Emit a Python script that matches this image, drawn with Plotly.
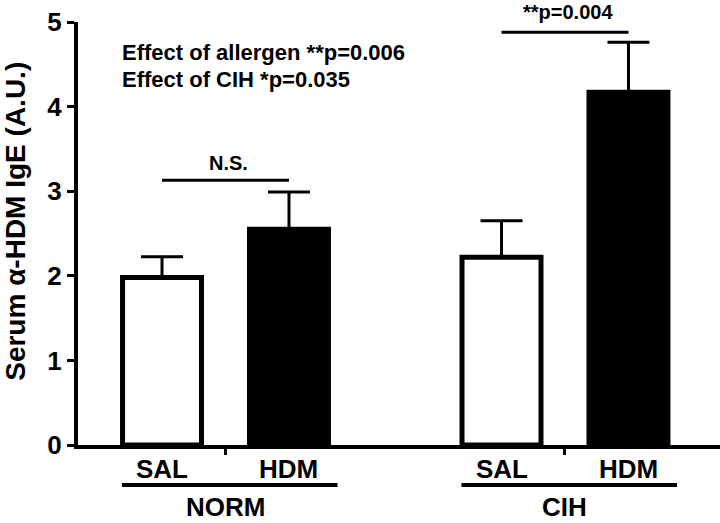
import plotly.graph_objects as go

# ---- data ----
groups = ["NORM", "CIH"]
sal_mean = [1.98, 2.22]
sal_sem = [0.245, 0.43]
hdm_mean = [2.55, 4.17]
hdm_sem = [0.44, 0.59]
y_ticks = [0, 1, 2, 3, 4, 5]
sub_labels = ["SAL", "HDM"]
stat_lines = ["Effect of allergen **p=0.006", "Effect of CIH *p=0.035"]
pair_labels = ["N.S.", "**p=0.004"]

FONT = "Liberation Sans, Arial, Helvetica, sans-serif"
BAR_OFF = 0.187  # half slot offset of each bar from group center
Y_MAX = 5

fig = go.Figure()
fig.add_trace(go.Bar(
    x=groups, y=sal_mean, name="SAL",
    marker=dict(color="white", line=dict(color="black", width=5)),
    error_y=dict(type="data", array=sal_sem, arrayminus=[0, 0], symmetric=False,
                 color="black", thickness=3, width=21),
))
fig.add_trace(go.Bar(
    x=groups, y=hdm_mean, name="HDM",
    marker=dict(color="black", line=dict(color="black", width=5)),
    error_y=dict(type="data", array=hdm_sem, arrayminus=[0, 0], symmetric=False,
                 color="black", thickness=3, width=21),
))

fig.update_layout(
    width=720, height=523,
    margin=dict(l=78, r=0, t=22, b=78),
    paper_bgcolor="white", plot_bgcolor="white",
    barmode="group", bargap=0.252, bargroupgap=0.378,
    showlegend=False,
    font=dict(family=FONT, color="black"),
)
fig.update_yaxes(
    range=[0, Y_MAX], tickvals=y_ticks, ticks="outside", ticklen=7, tickwidth=3,
    tickcolor="black", showline=True, linewidth=4, linecolor="black",
    showgrid=False, zeroline=False,
    tickfont=dict(family=FONT, size=26, color="black", weight="bold"),
)
fig.update_xaxes(
    type="category", range=[-0.4345, 1.4566],
    ticks="outside", ticklen=6, tickwidth=3, tickcolor="black",
    showline=True, linewidth=4, linecolor="black",
    showgrid=False, zeroline=False, showticklabels=False,
)

ann = []
shapes = []
for gi, g in enumerate(groups):
    for si, lab in enumerate(sub_labels):
        ann.append(dict(x=gi + (-BAR_OFF if si == 0 else BAR_OFF), y=-0.0567,
                        xref="x", yref="paper", text=lab, showarrow=False,
                        yanchor="middle", xanchor="center",
                        font=dict(family=FONT, size=26, color="black", weight="bold")))
    shapes.append(dict(type="line", xref="x", yref="paper",
                       x0=gi - 0.305, x1=gi + 0.33, y0=-0.0946, y1=-0.0946,
                       line=dict(color="black", width=4)))
    ann.append(dict(x=gi + 0.0, y=-0.147, xref="x", yref="paper", text=g,
                    showarrow=False, yanchor="middle", xanchor="center",
                    font=dict(family=FONT, size=26, color="black", weight="bold")))

# significance brackets between bar centers
sig_y = [3.13, 4.88]
sig_text_y = [3.33, 5.12]
for gi in range(len(groups)):
    shapes.append(dict(type="line", xref="x", yref="y",
                       x0=gi - BAR_OFF, x1=gi + BAR_OFF, y0=sig_y[gi], y1=sig_y[gi],
                       line=dict(color="black", width=3)))
    ann.append(dict(x=gi + 0.01, y=sig_text_y[gi] / Y_MAX, xref="x", yref="paper",
                    text=pair_labels[gi], showarrow=False,
                    yanchor="middle", xanchor="center",
                    font=dict(family=FONT, size=20, color="black", weight="bold")))

# stats text
for t, yy in zip(stat_lines, [0.927, 0.863]):
    ann.append(dict(x=0.065, y=yy, xref="paper", yref="paper", text=t,
                    showarrow=False, xanchor="left", yanchor="middle",
                    font=dict(family=FONT, size=22, color="black", weight="bold")))

# y-axis title
ann.append(dict(x=-0.0966, y=0.53, xref="paper", yref="paper",
                text="Serum α-HDM IgE (A.U.)", textangle=-90, showarrow=False,
                xanchor="center", yanchor="middle",
                font=dict(family=FONT, size=28, color="black", weight="bold")))

fig.update_layout(annotations=ann, shapes=shapes)
fig.write_html("out.html",
               config={"displayModeBar": False},
               post_script="document.body.style.margin='0';document.body.style.overflow='hidden';")
